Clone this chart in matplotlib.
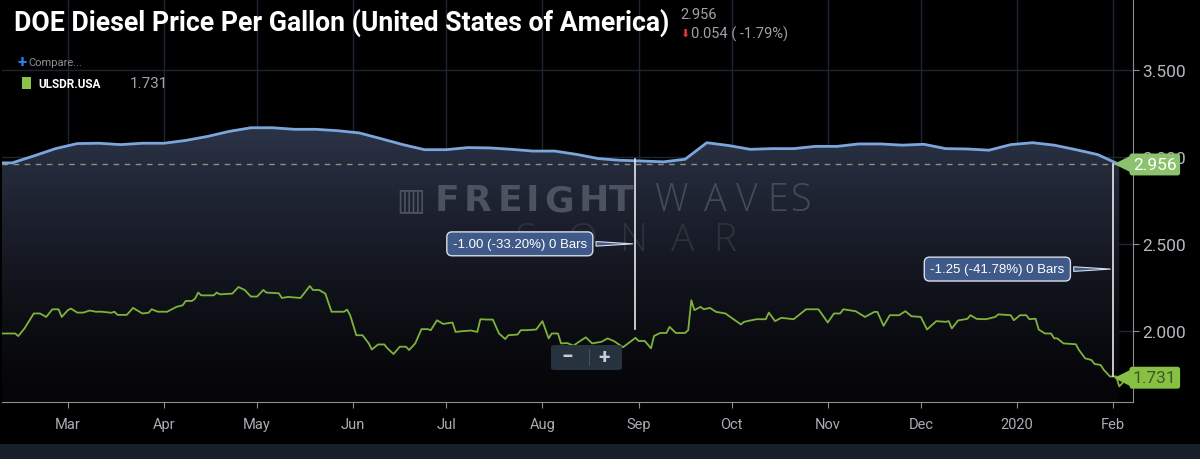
import matplotlib
matplotlib.use("Agg")
import numpy as np
import pandas as pd
import matplotlib.pyplot as plt
import matplotlib.dates as mdates
from matplotlib.patches import Rectangle, FancyBboxPatch
from matplotlib.transforms import blended_transform_factory

plt.rcParams['font.family'] = ['Roboto', 'DejaVu Sans']

# DOE diesel price, weekly (Mondays) starting 2019-02-04
doe_start = '2019-02-04'
doe_price = [2.966, 2.965, 3.005, 3.047, 3.076, 3.078, 3.070, 3.078, 3.078, 3.094,
             3.117, 3.146, 3.167, 3.167, 3.158, 3.158, 3.150, 3.137, 3.104, 3.070,
             3.041, 3.041, 3.053, 3.051, 3.043, 3.033, 3.033, 3.014, 2.990, 2.980,
             2.976, 2.971, 2.986, 3.081, 3.065, 3.043, 3.047, 3.047, 3.060, 3.060,
             3.074, 3.074, 3.067, 3.072, 3.047, 3.045, 3.038, 3.070, 3.081, 3.067,
             3.041, 3.013, 2.956]

# ULSDR.USA, days after 2019-03-01 and price
ulsdr_day = [-22, -17, -16, -14, -11, -9, -7, -5, -3, -2, 0, 1, 3, 5, 7, 9, 11, 14, 15, 16,
             19, 21, 24, 26, 27, 29, 32, 35, 37, 38, 40, 41, 42, 43, 47, 48, 49, 53, 55, 57,
             59, 61, 63, 64, 68, 69, 71, 75, 78, 79, 81, 83, 85, 89, 90, 91, 93, 95, 97, 98,
             100, 102, 103, 105, 107, 109, 110, 112, 114, 116, 117, 119, 121, 124, 125, 127, 130, 132, 133, 135,
             137, 139, 141, 142, 145, 146, 148, 151, 153, 155, 156, 158, 159, 161, 163, 165, 167, 169, 172, 174,
             176, 179, 183, 184, 186, 188, 189, 191, 193, 194, 196, 199, 200, 201, 202, 204, 205, 207, 209, 212,
             217, 218, 222, 225, 226, 228, 230, 234, 238, 242, 245, 247, 249, 250, 254, 257, 260, 261, 263, 265,
             268, 270, 272, 275, 277, 280, 283, 284, 285, 287, 290, 291, 293, 296, 299, 300, 304, 305, 307, 309,
             310, 312, 313, 315, 317, 318, 319, 321, 325, 326, 328, 330, 331, 333, 334, 336, 338, 339, 340, 341]
ulsdr_price = [1.985, 1.985, 1.970, 2.014, 2.100, 2.100, 2.080, 2.124, 2.124, 2.080, 2.119, 2.128, 2.105, 2.105, 2.117, 2.110, 2.110, 2.104, 2.110, 2.092,
               2.092, 2.132, 2.100, 2.104, 2.124, 2.110, 2.110, 2.138, 2.147, 2.172, 2.172, 2.185, 2.220, 2.204, 2.204, 2.220, 2.210, 2.214, 2.252, 2.235,
               2.197, 2.197, 2.235, 2.220, 2.216, 2.189, 2.195, 2.189, 2.258, 2.235, 2.235, 2.214, 2.110, 2.110, 2.122, 2.090, 1.975, 1.975, 1.928, 1.893,
               1.922, 1.922, 1.900, 1.867, 1.909, 1.909, 1.890, 1.928, 2.010, 2.010, 2.004, 2.061, 2.040, 2.048, 1.994, 1.998, 2.002, 1.994, 2.067, 2.065,
               2.065, 1.985, 1.953, 1.975, 1.979, 2.004, 2.004, 2.008, 2.056, 1.957, 1.985, 1.985, 1.928, 1.930, 1.915, 1.940, 1.963, 1.928, 1.937, 1.957,
               1.942, 1.906, 1.960, 1.942, 1.942, 1.900, 1.971, 1.988, 1.988, 2.023, 1.988, 1.988, 2.004, 2.176, 2.119, 2.138, 2.124, 2.132, 2.109, 2.100,
               2.037, 2.052, 2.067, 2.067, 2.105, 2.056, 2.075, 2.067, 2.124, 2.124, 2.048, 2.100, 2.100, 2.124, 2.113, 2.080, 2.109, 2.109, 2.029, 2.090,
               2.090, 2.113, 2.084, 2.080, 2.008, 2.056, 2.052, 2.056, 2.014, 2.060, 2.069, 2.090, 2.069, 2.067, 2.080, 2.095, 2.090, 2.061, 2.090, 2.090,
               2.067, 2.070, 2.008, 1.985, 1.985, 1.957, 1.957, 1.928, 1.923, 1.890, 1.842, 1.833, 1.810, 1.804, 1.776, 1.738, 1.738, 1.681, 1.700, 1.731]

# measuring lines (date, top, bottom, label)
measure_dates = ['2019-08-31', '2020-02-01']
measure_top = [2.99, 2.96]
measure_bottom = [2.01, 1.74]
measure_labels = ['-1.00 (-33.20%) 0 Bars', '-1.25 (-41.78%) 0 Bars']
measure_label_y = [2.50, 2.355]

month_ticks = pd.date_range('2019-03-01', '2020-02-01', freq='MS')
month_labels = [d.strftime('%b') if d.month != 1 else str(d.year) for d in month_ticks]

doe_dates = pd.date_range(doe_start, periods=len(doe_price), freq='7D')
ulsdr_dates = pd.Timestamp('2019-03-01') + pd.to_timedelta(ulsdr_day, unit='D')

W, H = 1200, 460
fig = plt.figure(figsize=(12, 4.6), dpi=100, facecolor='black')
ax = fig.add_axes([2 / W, 57 / H, 1131 / W, 403 / H])
ax.set_facecolor('black')


def px2ax(px, py):
    # pixel position in the picture -> axes fraction
    return (px - 2) / 1131, (403 - py) / 403


ymin, ymax = 1.5914, 3.9066
x0, x1 = pd.Timestamp('2019-02-07 18:00'), pd.Timestamp('2020-02-07 10:00')

# grid
ax.set_xticks(month_ticks)
ax.set_xticklabels(month_labels)
ax.set_yticks([2.0, 2.5, 3.0, 3.5])
ax.set_yticklabels(['2.000', '2.500', '3.000', '3.500'])
ax.grid(True, color='#1b2533', linewidth=1)
ax.set_axisbelow(True)

# gradient area under DOE line
poly = ax.fill_between(doe_dates, doe_price, ymin, color='none', zorder=1)
grad = np.linspace(0, 1, 256).reshape(-1, 1)
top_c = np.array([0.17, 0.20, 0.28])
bot_c = np.array([0.02, 0.02, 0.03])
img = bot_c + (top_c - bot_c) * grad ** 1.3
img = img.reshape(256, 1, 3)
ymax_fill = max(doe_price)
im = ax.imshow(img, origin='lower', aspect='auto', zorder=1,
               extent=[mdates.date2num(x0), mdates.date2num(x1), ymin, ymax_fill])
im.set_clip_path(poly.get_paths()[0], transform=ax.transData)
ax.set_xlim(x0, x1)
ax.set_ylim(ymin, ymax)

# watermark, letter by letter (wide logo type)
for ch, cx in zip('FREIGHT', [447, 478, 510, 532, 559, 594, 621]):
    ax.text(*px2ax(cx, 201), ch, transform=ax.transAxes, ha='center', va='center',
            fontsize=26, fontweight='bold', color='#4d5260', zorder=2, family=['DejaVu Sans'])
for ch, cx in zip('WAVES', [671, 715, 747, 778, 801]):
    ax.text(*px2ax(cx, 201), ch, transform=ax.transAxes, ha='center', va='center',
            fontsize=27, fontweight='light', color='#464b58', zorder=2, family=['Open Sans', 'DejaVu Sans'])
ax.text(*px2ax(411, 201), '▥', transform=ax.transAxes, ha='center', va='center',
        fontsize=22, color='#4d5260', zorder=2, family=['DejaVu Sans'])
for ch, cx in zip('SONAR', [526, 582, 633, 683, 725]):
    ax.text(*px2ax(cx, 241), ch, transform=ax.transAxes, ha='center', va='center',
            fontsize=28, fontweight='light', color='#2d323d', zorder=2, family=['Open Sans', 'DejaVu Sans'])

# lines
ax.axhline(doe_price[-1], color='#7f987a', linestyle=(0, (4, 4)), linewidth=1, zorder=3)
ax.plot(doe_dates, doe_price, color='#7aa6dc', linewidth=2, zorder=4)
ax.plot(ulsdr_dates, ulsdr_price, color='#7db33a', linewidth=1.3, zorder=4)

# measure lines with labels
for d, t, b, lab, ly in zip(measure_dates, measure_top, measure_bottom, measure_labels, measure_label_y):
    d = pd.Timestamp(d)
    ax.plot([d, d], [b, t], color='#e8e8e8', linewidth=1.2, zorder=5)
    ax.annotate(lab, xy=(d, ly), xytext=(-35, 0), textcoords='offset points',
                ha='right', va='center', color='white', fontsize=9.5, zorder=6,
                family=['Liberation Sans', 'DejaVu Sans'],
                bbox=dict(boxstyle='round,pad=0.45,rounding_size=0.4', fc='#3f5a88', ec='#d8dde6', lw=1),
                arrowprops=dict(arrowstyle='wedge,tail_width=0.35', fc='#3f5a88', ec='#d8dde6', lw=0.8))

# axis style
for s in ['left', 'top']:
    ax.spines[s].set_visible(False)
ax.spines['right'].set_color('#8d9096')
ax.spines['bottom'].set_color('#8d9096')
ax.yaxis.tick_right()
ax.tick_params(axis='y', colors='#8d9096', labelcolor='#b5b9bf', labelsize=12.5, length=4, pad=3)
ax.tick_params(axis='x', colors='#8d9096', labelcolor='#a9adb3', labelsize=10.5, length=4, pad=7)

# last-value tags
tr = blended_transform_factory(ax.transAxes, ax.transData)
for val, fc, tc in [(doe_price[-1], '#8cc16e', 'white'), (ulsdr_price[-1], '#88c043', '#3e5a22')]:
    ax.text(1.0, val, '%.3f' % val, transform=tr, ha='left', va='center', fontsize=12.5,
            color=tc, zorder=8, clip_on=False,
            bbox=dict(boxstyle='round,pad=0.2,rounding_size=0.15', fc=fc, ec='none'))
    ax.plot([0.9905], [val], marker='<', markersize=12, color=fc, transform=tr,
            clip_on=False, zorder=7, markeredgewidth=0)

# zoom buttons
fig.patches.append(FancyBboxPatch((551 / W, 1 - 371 / H), 71 / W, 25 / H, transform=fig.transFigure,
                                  boxstyle='round,pad=0,rounding_size=0.004', fc='#26323e', ec='none'))
fig.patches.append(Rectangle((589 / W, 1 - 367 / H), 1 / W, 17 / H, transform=fig.transFigure,
                             fc='#45515e', ec='none'))
fig.text(567 / W, 1 - 358 / H, '−', ha='center', va='center', fontsize=15,
         color='#c9ced6', fontweight='bold')
fig.text(604 / W, 1 - 358 / H, '+', ha='center', va='center', fontsize=15,
         color='#c9ced6', fontweight='bold')

# header texts
fig.text(14 / W, 1 - 23 / H, 'DOE Diesel Price Per Gallon (United States of America)',
         ha='left', va='center', fontsize=19.2, fontweight='bold', color='white')
fig.text(680 / W, 1 - 15 / H, '2.956', ha='left', va='center', fontsize=10.5, color='#9ea2a8')
fig.text(680 / W, 1 - 34 / H, '⬇', ha='left', va='center', fontsize=8, color='#e8323c',
         family=['DejaVu Sans'])
fig.text(691 / W, 1 - 34 / H, '0.054 ( -1.79%)', ha='left', va='center', fontsize=10.5, color='#9ea2a8')
fig.text(17 / W, 1 - 62 / H, '+', ha='left', va='center', fontsize=12, color='#2f80e8', fontweight='bold')
fig.text(28 / W, 1 - 63 / H, 'Compare...', ha='left', va='center', fontsize=8, color='#8b9097')
fig.patches.append(Rectangle((22 / W, 1 - 90 / H), 9 / W, 12 / H, transform=fig.transFigure,
                             fc='#8bc34a', ec='none'))
fig.text(38 / W, 1 - 84 / H, 'ULSDR.USA', ha='left', va='center', fontsize=8.5, color='white', fontweight='bold')
fig.text(130 / W, 1 - 84 / H, '1.731', ha='left', va='center', fontsize=11, color='#9ea2a8')

# bottom strip
fig.patches.append(Rectangle((0, 0), 1, 15 / H, transform=fig.transFigure, fc='#17202a', ec='none'))

plt.savefig('out.png', dpi=100, facecolor='black')
